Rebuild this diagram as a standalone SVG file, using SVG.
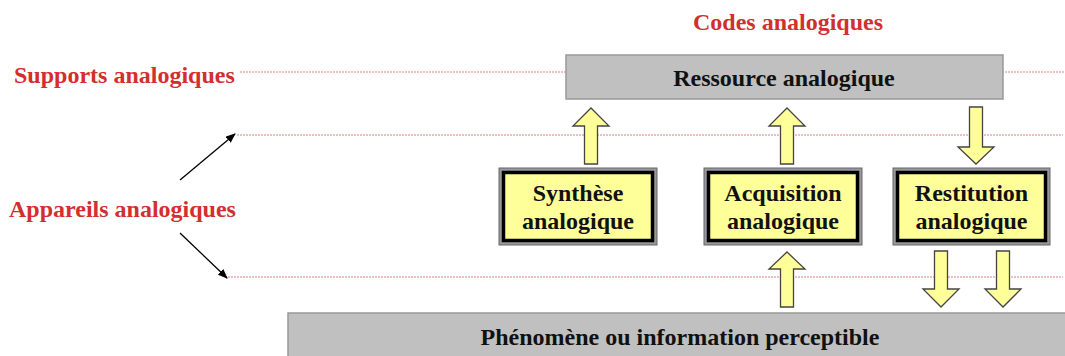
<svg xmlns="http://www.w3.org/2000/svg" width="1065" height="356" viewBox="0 0 1065 356">
<style>
.lbl{font-family:"Liberation Serif","Times New Roman",serif;font-weight:bold;font-size:24px;fill:#d32f2f}
.txt{font-family:"Liberation Serif","Times New Roman",serif;font-weight:bold;font-size:24px;fill:#111;text-anchor:middle}
.sep{stroke:#dc8080;stroke-width:1;stroke-dasharray:2 1;fill:none}
.gray{fill:#c0c0c0;stroke:#999;stroke-width:1.5}
.outer{fill:#999;stroke:#666;stroke-width:1}
.inner{fill:#ffff99;stroke:#000;stroke-width:3.5}
.blk{fill:#ffff99;stroke:#444;stroke-width:1.3;stroke-linejoin:miter}
.ptr{stroke:#000;stroke-width:1.3;fill:none}
</style>
<defs>
<marker id="ah" markerWidth="10" markerHeight="8" refX="9" refY="4" orient="auto" markerUnits="userSpaceOnUse">
<path d="M0,0 L10,4 L0,8 Z" fill="#000"/>
</marker>
</defs>
<rect width="1065" height="356" fill="#fff"/>
<g id="separators">
<line class="sep" x1="240" y1="72" x2="1065" y2="72"/>
<line class="sep" x1="237" y1="135" x2="1063" y2="135"/>
<line class="sep" x1="228" y1="277" x2="1063" y2="277"/>
</g>
<g id="labels">
<text class="lbl" x="14" y="83">Supports analogiques</text>
<text class="lbl" x="9" y="217">Appareils analogiques</text>
<text class="lbl" x="788" y="30" text-anchor="middle">Codes analogiques</text>
</g>
<g id="ressource">
<rect class="gray" x="566" y="55" width="437" height="44"/>
<text class="txt" x="784" y="86">Ressource analogique</text>
</g>
<g id="phenomene">
<rect class="gray" x="288" y="313" width="780" height="50"/>
<text class="txt" x="680" y="345">Phénomène ou information perceptible</text>
</g>
<g id="synthese">
<rect class="outer" x="499" y="168" width="158" height="77"/>
<rect class="inner" x="503.5" y="172.5" width="149" height="68"/>
<text class="txt" x="578" y="201">Synthèse</text>
<text class="txt" x="578" y="229">analogique</text>
</g>
<g id="acquisition">
<rect class="outer" x="704" y="168" width="158" height="77"/>
<rect class="inner" x="708.5" y="172.5" width="149" height="68"/>
<text class="txt" x="783" y="201">Acquisition</text>
<text class="txt" x="783" y="229">analogique</text>
</g>
<g id="restitution">
<rect class="outer" x="893" y="168" width="157" height="77"/>
<rect class="inner" x="897.5" y="172.5" width="148" height="68"/>
<text class="txt" x="971.5" y="201">Restitution</text>
<text class="txt" x="971.5" y="229">analogique</text>
</g>
<g id="connectors">
<line class="ptr" x1="180" y1="180" x2="235" y2="134" marker-end="url(#ah)"/>
<line class="ptr" x1="180" y1="233" x2="227" y2="278" marker-end="url(#ah)"/>
<polygon class="blk" points="591,108 609,126 597.5,126 597.5,164 584.5,164 584.5,126 573,126"/>
<polygon class="blk" points="787,108 805,126 793.5,126 793.5,164 780.5,164 780.5,126 769,126"/>
<polygon class="blk" points="787,252 805,269 793.5,269 793.5,307 780.5,307 780.5,269 769,269"/>
<polygon class="blk" points="969.5,107 982.5,107 982.5,147 994,147 976,164 958,147 969.5,147"/>
<polygon class="blk" points="934.5,251 947.5,251 947.5,289 959,289 941,307 923,289 934.5,289"/>
<polygon class="blk" points="996.5,251 1009.5,251 1009.5,289 1021,289 1003,307 985,289 996.5,289"/>
</g>
</svg>
